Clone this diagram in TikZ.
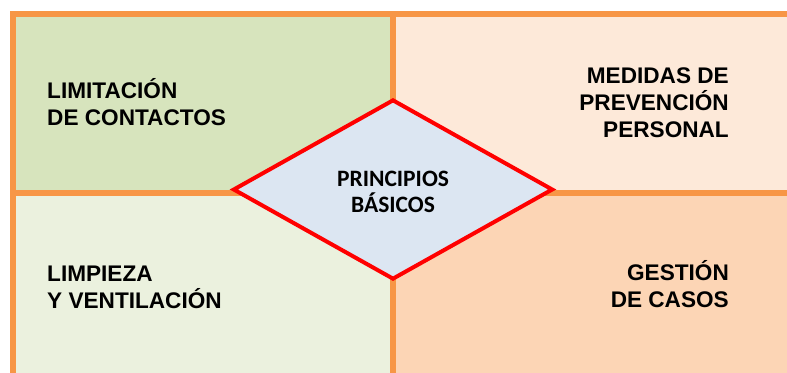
\documentclass[tikz,border=0pt]{standalone}
\usepackage{fontspec}
\setmainfont{Liberation Sans}
\newfontfamily\carlito{Carlito}
\usetikzlibrary{shapes.geometric}
\definecolor{frameorange}{HTML}{F79646}
\definecolor{greendark}{HTML}{D7E4BD}
\definecolor{greenlight}{HTML}{EBF1DE}
\definecolor{orangelight}{HTML}{FDE9D9}
\definecolor{orangedark}{HTML}{FCD5B5}
\definecolor{diamondblue}{HTML}{DCE6F2}

\begin{document}
\begin{tikzpicture}[x=1bp, y=-1bp,
  divider/.style={draw=frameorange, line width=6bp},
  label/.style={inner sep=0pt, align=left, font=\fontsize{22.6bp}{27bp}\selectfont\bfseries},
  rlabel/.style={label, align=right},
  principle/.style={diamond, draw=red, line width=4bp, fill=diamondblue,
    minimum width=320bp, minimum height=180bp, inner sep=0pt, align=center,
    font=\carlito\fontsize{23.5bp}{26bp}\selectfont\bfseries}]
\useasboundingbox (0, 0) rectangle (787, 372);
\clip (0, 0) rectangle (787, 372);
\fill[greendark] (13, 14) rectangle (393, 193);
\fill[orangelight] (393, 14) rectangle (800, 193);
\fill[greenlight] (13, 193) rectangle (393, 380);
\fill[orangedark] (393, 193) rectangle (800, 380);
\draw[divider] (13, 380) -- (13, 14) -- (800, 14);
\draw[divider] (393, 14) -- (393, 380);
\draw[divider] (13, 193) -- (800, 193);
\node[label, anchor=base west] (contactos) at (47, 125) {LIMITACIÓN\\DE CONTACTOS};
\node[rlabel, anchor=base east] (prevencion) at (729, 137) {MEDIDAS DE\\PREVENCIÓN\\PERSONAL};
\node[label, anchor=base west] (limpieza) at (47, 308) {LIMPIEZA\\Y VENTILACIÓN};
\node[rlabel, anchor=base east] (casos) at (729, 307) {GESTIÓN\\DE CASOS};
\node[principle] (principios) at (393, 189.5) {};
\node[inner sep=0pt, align=center, font=\carlito\fontsize{23.5bp}{26bp}\selectfont\bfseries,
  anchor=base] (basicos) at (393, 212) {PRINCIPIOS\\BÁSICOS};
\end{tikzpicture}
\end{document}
